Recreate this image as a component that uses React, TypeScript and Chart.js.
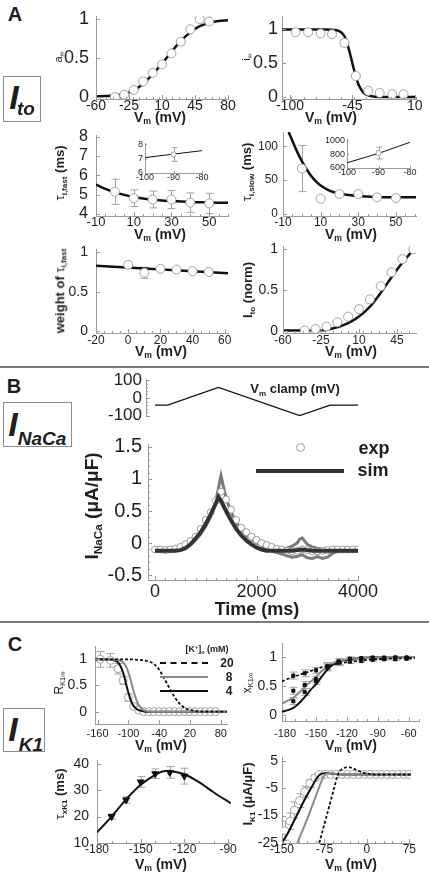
import React, { useEffect, useRef } from 'react';
import { Chart, registerables } from 'chart.js';

const FONT = "'Liberation Sans', Arial, Helvetica, sans-serif";
const AXIS = '#9a9a9a';
const TXT = '#1e1e1e';
const GREY = '#8a8a8a';
const MARK = '#a2a2a2';

// ===================== Panel A : I_to =====================
const aInfCurveV = [-60, -50, -40, -30, -20, -10, 0, 10, 20, 30, 40, 50, 60, 70, 80];
const aInfCurve = [0.01, 0.013, 0.02, 0.04, 0.085, 0.17, 0.29, 0.43, 0.58, 0.72, 0.83, 0.91, 0.95, 0.975, 0.985];
const aInfExpV = [-40, -30, -20, -10, 0, 10, 20, 30, 40, 50, 60];
const aInfExp = [0.0, 0.03, 0.09, 0.2, 0.31, 0.42, 0.56, 0.71, 0.87, 1.0, 0.97];

const iInfCurveV = [-107, -90, -80, -70, -62, -58, -55, -52, -50, -48, -46, -44, -42, -40, -38, -36, -34, -31, -28, -25, -20, -10, 0, 11];
const iInfCurve = [1.0, 1.0, 1.0, 1.0, 0.995, 0.985, 0.96, 0.9, 0.82, 0.7, 0.57, 0.43, 0.31, 0.2, 0.13, 0.08, 0.05, 0.025, 0.012, 0.005, 0.0, 0.0, 0.0, 0.0];
const iInfExpV = [-95, -84, -73, -63, -52, -42, -31, -21, -10, 0];
const iInfExp = [0.96, 0.96, 0.94, 0.93, 0.8, 0.31, 0.09, 0.06, 0.04, 0.04];
const iInfErr = [0, 0, 0, 0.03, 0.05, 0.03, 0, 0, 0, 0];

const tauFastCurveV = [-10, -5, 0, 5, 10, 15, 20, 30, 40, 50, 60];
const tauFastCurve = [5.52, 5.3, 5.12, 4.99, 4.88, 4.8, 4.74, 4.67, 4.62, 4.6, 4.58];
const tauFastExpV = [0, 10, 20, 30, 40, 50];
const tauFastExp = [5.15, 4.82, 4.75, 4.75, 4.59, 4.55];
const tauFastErr = [0.65, 0.43, 0.43, 0.47, 0.5, 0.52];
const insetFastLineV = [-100, -80];
const insetFastLine = [7.08, 7.57];
const insetFastExpV = [-90];
const insetFastExp = [7.3];
const insetFastErr = [0.48];

const tauSlowCurveV = [-7, -5, -2.5, 0, 2.5, 5, 7.5, 10, 15, 20, 25, 30, 40, 50, 60.7];
const tauSlowCurve = [121, 108, 92, 78, 66, 56, 48, 42, 34, 30, 28, 26.5, 25.2, 24.8, 24.6];
const tauSlowExpV = [0, 10, 20, 30, 40, 50];
const tauSlowExp = [67, 22.5, 29.4, 29.4, 24.5, 23.5];
const tauSlowErr = [34, 0, 2, 2, 2, 2];
const insetSlowLineV = [-100, -90, -80];
const insetSlowLine = [675, 810, 970];
const insetSlowExpV = [-90];
const insetSlowExp = [815];
const insetSlowErr = [85];

const weightCurveV = [-20, 62];
const weightCurve = [0.83, 0.735];
const weightExpV = [0, 10, 20, 30, 40, 50];
const weightExp = [0.84, 0.74, 0.79, 0.78, 0.76, 0.75];
const weightErr = [0.02, 0.07, 0.02, 0.02, 0.02, 0.02];

const itoCurveV = [-60, -40, -30, -25, -20, -10, 0, 10, 20, 30, 40, 50, 60];
const itoCurve = [0.01, 0.01, 0.01, 0.012, 0.02, 0.05, 0.1, 0.18, 0.3, 0.47, 0.66, 0.84, 0.99];
const itoExpV = [-40, -30, -20, -10, 0, 10, 20, 30, 40, 50, 60];
const itoExp = [0.01, 0.03, 0.06, 0.11, 0.18, 0.27, 0.39, 0.55, 0.72, 0.88, 1.0];

// ===================== Panel B : I_NaCa =====================
const clampT = [0, 250, 1250, 2850, 3450, 4000];
const clampV = [-40, -40, 60, -100, -40, -40];

const expT = [0, 100, 200, 300, 400, 500, 600, 700, 800, 900, 1000, 1100, 1200, 1300, 1400, 1500, 1600, 1700, 1800, 1900, 2000,
  2100, 2200, 2300, 2400, 2500, 2600, 2700, 2800, 2900, 3000, 3100, 3200, 3300, 3400, 3500, 3600, 3700, 3800, 3900, 4000];
const expI = [-0.1, -0.1, -0.11, -0.1, -0.09, -0.06, -0.02, 0.03, 0.1, 0.22, 0.36, 0.48, 0.66, 0.8, 0.68, 0.52, 0.36, 0.24, 0.17, 0.1, 0.05,
  0.0, -0.03, -0.06, -0.09, -0.1, -0.12, -0.13, -0.12, -0.1, -0.11, -0.13, -0.13, -0.12, -0.11, -0.1, -0.1, -0.1, -0.1, -0.1, -0.1];

const simT = [0, 400, 500, 600, 700, 800, 900, 1000, 1100, 1200, 1250, 1300, 1400, 1500, 1600, 1700, 1800, 1900, 2000, 2100, 2200, 2700, 2800, 2900, 3000, 3100, 3200, 4000];
const simI = [-0.12, -0.12, -0.11, -0.08, -0.02, 0.07, 0.17, 0.3, 0.45, 0.62, 0.72, 0.66, 0.5, 0.35, 0.22, 0.12, 0.04, -0.02, -0.07, -0.1, -0.12, -0.12, -0.11, -0.1, -0.11, -0.12, -0.12, -0.12];

const altT = [0, 500, 600, 700, 800, 900, 1000, 1100, 1200, 1300, 1400, 1500, 1600, 1700, 1800, 1900, 2000, 2100, 2200, 2300, 2400, 2500, 2600, 2700, 2800, 2900, 3000, 3100, 3200, 3300, 3400, 3500, 3600, 3700, 4000];
const altI = [-0.1, -0.1, -0.07, -0.02, 0.05, 0.14, 0.26, 0.42, 0.66, 1.05, 0.7, 0.48, 0.33, 0.2, 0.12, 0.05, 0.0, -0.04, -0.08, -0.12, -0.15, -0.17, -0.2, -0.22, -0.21, -0.18, -0.23, -0.24, -0.21, -0.24, -0.22, -0.16, -0.13, -0.12, -0.12];
const altUpT = [2400, 2500, 2600, 2700, 2800, 2850, 2900, 2950, 3000, 3100, 3200, 3300, 3400, 3500, 3600];
const altUpI = [-0.12, -0.1, -0.08, -0.05, 0.0, 0.06, 0.08, 0.03, -0.02, -0.06, -0.08, -0.09, -0.1, -0.11, -0.12];

// ===================== Panel C : I_K1 =====================
const c1CurveV4 = [-165, -130, -125, -120, -115, -110, -105, -100, -95, -90, -85, -80, -75, -70, -60, 92];
const c1Curve4 = [1.0, 0.99, 0.97, 0.94, 0.86, 0.74, 0.55, 0.36, 0.21, 0.11, 0.06, 0.03, 0.015, 0.005, 0.0, 0.0];
const c1CurveV8 = [-165, -120, -115, -110, -105, -100, -95, -90, -85, -80, -75, -70, -65, -60, -50, 92];
const c1Curve8 = [1.0, 0.99, 0.97, 0.94, 0.87, 0.75, 0.58, 0.4, 0.24, 0.13, 0.07, 0.03, 0.015, 0.005, 0.0, 0.0];
const c1CurveV20 = [-165, -100, -80, -70, -60, -50, -40, -30, -20, -10, 0, 10, 20, 30, 40, 92];
const c1Curve20 = [1.0, 1.0, 0.99, 0.98, 0.96, 0.91, 0.8, 0.63, 0.45, 0.28, 0.15, 0.07, 0.03, 0.01, 0.0, 0.0];
const c1ExpV = [-155, -135, -120, -110, -100, -90, -80, -70, -60, -50, -40, -30, -20, -10, 0, 10, 20, 30, 40, 50, 60, 70];
const c1Exp = [1.0, 0.98, 0.82, 0.6, 0.27, 0.1, 0.03, 0, 0, 0, 0, 0, 0, 0, 0, 0, 0, 0, 0, 0, 0, 0];
const c1Err = [0.15, 0.13, 0.1, 0.08, 0.07, 0.03, 0, 0, 0, 0, 0, 0, 0, 0, 0, 0, 0, 0, 0, 0, 0, 0];

const c2CurveV = [-183, -175, -170, -165, -160, -155, -150, -145, -140, -135, -130, -125, -120, -110, -100, -80, -54];
const c2Curve4 = [0.06, 0.1, 0.15, 0.23, 0.33, 0.44, 0.53, 0.65, 0.76, 0.85, 0.9, 0.93, 0.95, 0.98, 0.99, 1.0, 1.0];
const c2Curve8 = [0.2, 0.27, 0.33, 0.41, 0.5, 0.58, 0.66, 0.75, 0.82, 0.88, 0.92, 0.94, 0.96, 0.98, 0.99, 1.0, 1.0];
const c2Curve20 = [0.58, 0.64, 0.67, 0.7, 0.73, 0.76, 0.79, 0.82, 0.84, 0.86, 0.88, 0.9, 0.91, 0.93, 0.95, 0.97, 0.98];
const c2ExpV = [-172, -161, -150, -139, -128, -117, -106, -95, -84, -73, -62];
const c2Exp20 = [0.68, 0.72, 0.77, 0.84, 0.9, 0.92, 0.93, 0.95, 0.96, 0.96, 0.97];
const c2Exp8 = [0.42, 0.52, 0.62, 0.84, 0.92, 0.96, 0.97, 0.98, 0.98, 0.99, 0.99];
const c2Exp4 = [0.24, 0.4, 0.58, 0.82, 0.92, 0.97, 0.98, 0.99, 0.99, 0.99, 0.99];
const c2Err = [0.06, 0.06, 0.05, 0.06, 0.05, 0.03, 0.02, 0.02, 0.02, 0.02, 0.02];

const c3CurveV = [-180, -170, -160, -150, -140, -133, -125, -120, -110, -100, -88];
const c3Curve = [14, 20, 26.5, 32, 35.8, 37.2, 36.8, 36, 33, 29.2, 25];
const c3ExpV = [-170, -160, -150, -140, -130, -120];
const c3Exp = [20, 26.3, 33.1, 36.2, 36.7, 35.3];
const c3Err = [1, 1.2, 2, 1.8, 2.2, 3];

const c4CurveV4 = [-150, -140, -130, -120, -110, -100, -95, -90, -85, -80, -75, -70, -60, -50, -40, 78];
const c4Curve4 = [-25, -21.5, -17.5, -13.3, -9.2, -5.5, -3.6, -1.8, -0.4, 0.3, 0.5, 0.5, 0.3, 0.1, 0, 0];
const c4CurveV8 = [-123, -115, -105, -95, -85, -80, -75, -70, -65, -55, -45, -30, 78];
const c4Curve8 = [-25, -21, -16, -10.5, -5, -2.3, -0.3, 0.4, 0.5, 0.3, 0.1, 0, 0];
const c4CurveV20 = [-84, -75, -65, -58, -52, -48, -42, -36, -30, -24, -15, -5, 5, 15, 78];
const c4Curve20 = [-25, -18, -10.5, -5, -0.5, 1.2, 2.2, 2.6, 2.6, 2.2, 1.3, 0.6, 0.2, 0, 0];
const c4ExpV = [-145, -136, -128, -119, -110, -101, -92, -84, -74, -64, -54, -44, -34, -24, -14, -4, 6, 16, 26, 36, 46, 56, 66, 75];
const c4Exp = [-20.5, -17, -13, -9.5, -6.3, -3.2, -1.2, 0, 0, 0, 0, 0, 0, 0, 0, 0, 0, 0, 0, 0, 0, 0, 0, 0];
const c4Err = [3.5, 3, 3, 2.5, 2, 1.5, 1, 0.5, 0, 0, 0, 0, 0, 0, 0, 0, 0, 0, 0, 0, 0, 0, 0, 0];

// ===================== plugins =====================
const errorBarPlugin = {
  id: 'errBars',
  beforeDatasetsDraw(chart: any) {
    const ctx = chart.ctx;
    chart.data.datasets.forEach((ds: any, i: number) => {
      if (!ds.errors) return;
      const meta = chart.getDatasetMeta(i);
      const ys = meta.yScale;
      ctx.save();
      ctx.strokeStyle = ds.errorColor || MARK;
      ctx.lineWidth = 1;
      meta.data.forEach((pt: any, j: number) => {
        const e = ds.errors[j];
        if (!e) return;
        const yv = ds.data[j].y;
        const top = ys.getPixelForValue(yv + e);
        const bot = ys.getPixelForValue(yv - e);
        const x = Math.round(pt.x) + 0.5;
        const cap = ds.capWidth ?? 4;
        ctx.beginPath();
        ctx.moveTo(x, top); ctx.lineTo(x, bot);
        ctx.moveTo(x - cap, top); ctx.lineTo(x + cap, top);
        ctx.moveTo(x - cap, bot); ctx.lineTo(x + cap, bot);
        ctx.stroke();
      });
      ctx.restore();
    });
  },
};

// inward major and minor tick marks (drawn from the scales)
const tickMarkPlugin = {
  id: 'tickMarks',
  afterDraw(chart: any, _a: any, opts: any) {
    const { ctx, chartArea } = chart;
    const sx = chart.scales.x;
    const sy = chart.scales.y;
    const major = opts?.major ?? 4;
    ctx.save();
    ctx.strokeStyle = AXIS;
    ctx.lineWidth = 1;
    const vx = (v: number, len: number) => {
      const p = Math.round(sx.getPixelForValue(v)) + 0.5;
      ctx.beginPath(); ctx.moveTo(p, chartArea.bottom); ctx.lineTo(p, chartArea.bottom - len); ctx.stroke();
    };
    const vy = (v: number, len: number) => {
      const p = Math.round(sy.getPixelForValue(v)) + 0.5;
      ctx.beginPath(); ctx.moveTo(chartArea.left, p); ctx.lineTo(chartArea.left + len, p); ctx.stroke();
    };
    if (sx && !opts?.hideX) {
      sx.ticks.forEach((t: any) => vx(t.value, major));
      if (opts?.x) {
        const st = opts.x;
        for (let k = Math.ceil(sx.min / st - 1e-9); k * st <= sx.max + 1e-9; k++) vx(k * st, 2);
      }
    }
    if (sy) {
      sy.ticks.forEach((t: any) => vy(t.value, major));
      if (opts?.y) {
        const st = opts.y;
        for (let k = Math.ceil(sy.min / st - 1e-9); k * st <= sy.max + 1e-9; k++) vy(k * st, 2);
      }
    }
    ctx.restore();
  },
};

Chart.register(...registerables, errorBarPlugin, tickMarkPlugin);

// ===================== helpers =====================
const pts = (xs: number[], ys: number[]) => xs.map((x, i) => ({ x, y: ys[i] }));

const curve = (xs: number[], ys: number[], o: any = {}) => ({
  data: pts(xs, ys),
  showLine: true,
  borderColor: o.color || '#111',
  borderWidth: o.width ?? 2.5,
  borderDash: o.dash || [],
  pointRadius: 0,
  cubicInterpolationMode: o.straight ? 'default' : 'monotone',
  tension: 0,
  order: o.order ?? 1,
});

const marks = (xs: number[], ys: number[], o: any = {}) => ({
  data: pts(xs, ys),
  showLine: false,
  pointStyle: o.style || 'circle',
  pointRadius: o.r ?? 4.5,
  pointRotation: o.rot || 0,
  backgroundColor: o.fill || '#fff',
  borderColor: o.edge || MARK,
  pointBorderWidth: o.bw ?? 1,
  borderWidth: o.bw ?? 1,
  errors: o.err,
  capWidth: o.cap,
  order: o.order ?? 0,
});

function axisCfg(a: any, dir: 'x' | 'y', size: number) {
  return {
    type: 'linear',
    min: a.min,
    max: a.max,
    display: true,
    border: { display: !a.hidden, color: AXIS, width: 1 },
    grid: { display: false, drawTicks: false, tickLength: 0 },
    ticks: {
      display: !a.hidden,
      autoSkip: false, maxRotation: 0, minRotation: 0, padding: a.pad ?? 2, color: TXT,
      font: { family: FONT, size: a.font ?? 13, lineHeight: 1 },
      callback: (v: number) => String(v),
    },
    afterBuildTicks: (s: any) => { s.ticks = a.ticks.map((v: number) => ({ value: v })); },
    afterFit: (s: any) => { if (dir === 'x') s.height = size; else s.width = size; },
  };
}

function Plot({ spec }: { spec: any }) {
  const ref = useRef<HTMLCanvasElement>(null);
  const L = spec.L ?? 40, B = spec.B ?? 22, T = spec.T ?? 12, R = spec.R ?? 24;
  const { x0, x1, y0, y1 } = spec.box;
  const w = x1 - x0 + L + R;
  const h = y1 - y0 + T + B;
  useEffect(() => {
    const chart = new Chart(ref.current as HTMLCanvasElement, {
      type: 'scatter',
      data: { datasets: spec.datasets },
      options: {
        responsive: false,
        animation: false,
        devicePixelRatio: 1,
        layout: { padding: { top: T, right: R, left: 0, bottom: 0 }, autoPadding: false },
        plugins: {
          legend: { display: false }, tooltip: { enabled: false },
          tickMarks: { x: spec.x.minor, y: spec.y.minor, hideX: spec.x.hidden, major: spec.major ?? 4 },
        },
        scales: { x: axisCfg(spec.x, 'x', B), y: axisCfg(spec.y, 'y', L) },
      } as any,
    } as any);
    return () => chart.destroy();
  }, []);
  return <canvas ref={ref} width={w} height={h} style={{ position: 'absolute', left: x0 - L, top: y0 - T, width: w, height: h }} />;
}

function Txt({ x, y, size = 13, bold = true, italic = false, rot = 0, color = TXT, children }: any) {
  return (
    <div style={{
      position: 'absolute', left: x, top: y, transform: `translate(-50%,-50%) rotate(${rot}deg)`,
      fontFamily: FONT, fontSize: size, fontWeight: bold ? 700 : 400, fontStyle: italic ? 'italic' : 'normal',
      color, whiteSpace: 'nowrap', lineHeight: 1,
    }}>{children}</div>
  );
}
const Sub = ({ children, s = 0.62 }: any) => <span style={{ fontSize: `${s}em`, verticalAlign: '-0.3em' }}>{children}</span>;
const Sup = ({ children, s = 0.62 }: any) => <span style={{ fontSize: `${s}em`, verticalAlign: '0.5em' }}>{children}</span>;
const Vm = () => <>V<Sub>m</Sub> (mV)</>;

// ===================== specs =====================
const specs: any[] = [
  { // A1
    box: { x0: 96, x1: 228, y0: 12, y1: 99 },
    x: { min: -60, max: 80, ticks: [-60, -25, 10, 45, 80], minor: 7, font: 14, pad: 0 },
    y: { min: -0.025, max: 1.04, ticks: [0, 0.5, 1], font: 18, pad: 7 },
    datasets: [marks(aInfExpV, aInfExp), curve(aInfCurveV, aInfCurve)],
  },
  { // A2
    box: { x0: 282, x1: 416, y0: 15, y1: 99 },
    x: { min: -107, max: 11, ticks: [-100, -45, 10], minor: 11, font: 14, pad: 0 },
    y: { min: -0.03, max: 1.2, ticks: [0, 0.5, 1], font: 18, pad: 4 },
    datasets: [marks(iInfExpV, iInfExp, { err: iInfErr }), curve(iInfCurveV, iInfCurve)],
  },
  { // A3
    box: { x0: 96, x1: 228, y0: 131, y1: 216 },
    x: { min: -10, max: 60, ticks: [-10, 10, 30, 50], minor: 5, font: 13, pad: 0 },
    y: { min: 3.9, max: 8.08, ticks: [4, 5, 6, 7, 8], font: 16, pad: 8 },
    datasets: [marks(tauFastExpV, tauFastExp, { err: tauFastErr }), curve(tauFastCurveV, tauFastCurve)],
  },
  { // A3 inset
    box: { x0: 145, x1: 202, y0: 143, y1: 173 }, L: 14, B: 12, T: 6, R: 12, major: 2,
    x: { min: -100, max: -80, ticks: [-100, -90, -80], font: 9, pad: 0 },
    y: { min: 6, max: 8.07, ticks: [6, 7, 8], font: 9, pad: 2 },
    datasets: [marks(insetFastExpV, insetFastExp, { err: insetFastErr, r: 2.5, cap: 3 }), curve(insetFastLineV, insetFastLine, { width: 1, straight: true })],
  },
  { // A4
    box: { x0: 283, x1: 416, y0: 132, y1: 216 },
    x: { min: -10, max: 60.7, ticks: [-10, 10, 30, 50], minor: 5, font: 12, pad: 1 },
    y: { min: -3, max: 121, ticks: [0, 50, 100], font: 12, pad: 5 },
    datasets: [marks(tauSlowExpV, tauSlowExp, { err: tauSlowErr }), curve(tauSlowCurveV, tauSlowCurve)],
  },
  { // A4 inset
    box: { x0: 347, x1: 410, y0: 139, y1: 168 }, L: 24, B: 12, T: 6, R: 12, major: 2,
    x: { min: -100, max: -80, ticks: [-100, -90, -80], font: 9, pad: 0 },
    y: { min: 600, max: 1010, ticks: [600, 800, 1000], font: 9, pad: 2 },
    datasets: [marks(insetSlowExpV, insetSlowExp, { err: insetSlowErr, r: 2.5, cap: 3 }), curve(insetSlowLineV, insetSlowLine, { width: 1, straight: true })],
  },
  { // A5
    box: { x0: 96, x1: 228, y0: 246, y1: 333 },
    x: { min: -20, max: 62, ticks: [-20, 0, 20, 40, 60], minor: 5, font: 12, pad: 2 },
    y: { min: -0.02, max: 1.04, ticks: [0, 0.5, 1], font: 14, pad: 8 },
    datasets: [marks(weightExpV, weightExp, { err: weightErr }), curve(weightCurveV, weightCurve, { straight: true })],
  },
  { // A6
    box: { x0: 283, x1: 416, y0: 246, y1: 333 },
    x: { min: -60, max: 62.5, ticks: [-60, -25, 10, 45], minor: 7, font: 12, pad: 2 },
    y: { min: -0.02, max: 1.04, ticks: [0, 0.5, 1], font: 14, pad: 5 },
    datasets: [marks(itoExpV, itoExp), curve(itoCurveV, itoCurve)],
  },
  { // B top clamp
    box: { x0: 146, x1: 358, y0: 377, y1: 417 }, L: 50, B: 12, T: 10,
    x: { min: -177, max: 4000, ticks: [0], hidden: true },
    y: { min: -105, max: 105, ticks: [-100, 0, 100], minor: 20, font: 17, pad: 4 },
    datasets: [curve(clampT, clampV, { width: 1.3, straight: true })],
  },
  { // B bottom
    box: { x0: 148, x1: 358, y0: 440, y1: 580 }, L: 52, B: 26, R: 30,
    x: { min: -138, max: 4000, ticks: [0, 2000, 4000], minor: 200, font: 18, pad: 3 },
    y: { min: -0.576, max: 1.545, ticks: [-0.5, 0, 0.5, 1, 1.5], minor: 0.1, font: 20, pad: 6 },
    datasets: [
      curve(simT, simI, { color: '#333', width: 4, straight: true, order: 0 }),
      marks(expT, expI, { r: 3.5, edge: '#9a9a9a', order: 1 }),
      curve(altT, altI, { color: '#7a7a7a', width: 3, straight: true, order: 2 }),
      curve(altUpT, altUpI, { color: '#7a7a7a', width: 3, straight: true, order: 3 }),
    ],
  },
  { // C1
    box: { x0: 95, x1: 227, y0: 643, y1: 724 }, B: 16,
    x: { min: -165, max: 92, ticks: [-160, -100, -40, 20, 80], font: 11, pad: 4 },
    y: { min: -0.236, max: 1.255, ticks: [0, 0.5, 1], font: 14, pad: 8 },
    datasets: [
      curve(c1CurveV20, c1Curve20, { width: 1.8, dash: [3, 2], order: 0 }),
      curve(c1CurveV8, c1Curve8, { width: 2, color: GREY, order: 0 }),
      curve(c1CurveV4, c1Curve4, { width: 2, order: 0 }),
      marks(c1ExpV, c1Exp, { err: c1Err, r: 4, order: 5 }),
    ],
  },
  { // C2
    box: { x0: 282, x1: 419, y0: 643, y1: 721 }, B: 18,
    x: { min: -183, max: -50, ticks: [-180, -150, -120, -90, -60], minor: 10, font: 11, pad: 7 },
    y: { min: -0.1, max: 1.24, ticks: [0, 0.5, 1], font: 14, pad: 5 },
    datasets: [
      marks(c2ExpV, c2Exp20, { err: c2Err, style: 'rect', r: 2.2, fill: '#111', edge: '#111', order: 0 }),
      marks(c2ExpV, c2Exp8, { err: c2Err, style: 'rect', r: 2.2, fill: '#111', edge: '#111', order: 0 }),
      marks(c2ExpV, c2Exp4, { err: c2Err, style: 'rect', r: 2.2, fill: '#111', edge: '#111', order: 0 }),
      curve(c2CurveV, c2Curve20, { width: 1.8, dash: [3, 2], order: 1 }),
      curve(c2CurveV, c2Curve8, { width: 2, color: GREY, order: 1 }),
      curve(c2CurveV, c2Curve4, { width: 2, order: 1 }),
    ],
  },
  { // C3
    box: { x0: 97, x1: 231, y0: 757, y1: 843 },
    x: { min: -180, max: -88, ticks: [-180, -150, -120, -90], minor: 10, font: 12, pad: 1 },
    y: { min: 10, max: 41.4, ticks: [10, 20, 30, 40], font: 14, pad: 8 },
    datasets: [
      marks(c3ExpV, c3Exp, { err: c3Err, style: 'triangle', rot: 180, r: 4, fill: '#111', edge: '#111', order: 0 }),
      curve(c3CurveV, c3Curve, { width: 2, order: 1 }),
    ],
  },
  { // C4
    box: { x0: 282, x1: 411, y0: 757, y1: 843 },
    x: { min: -150, max: 78, ticks: [-150, -75, 0, 75], minor: 15, font: 12, pad: 1 },
    y: { min: -25, max: 6.4, ticks: [-25, -15, -5, 5], font: 14, pad: 4 },
    datasets: [
      curve(c4CurveV20, c4Curve20, { width: 1.8, dash: [3, 2], order: 0 }),
      curve(c4CurveV8, c4Curve8, { width: 2, color: GREY, order: 0 }),
      curve(c4CurveV4, c4Curve4, { width: 2, order: 0 }),
      marks(c4ExpV, c4Exp, { err: c4Err, r: 4, order: 5 }),
    ],
  },
];

function CurrentBox({ left, top, width, height, sub, ix, iy, sx, sy }: any) {
  return (
    <>
      <div style={{ position: 'absolute', left, top, width, height, border: '1px solid #8c8c8c', boxSizing: 'border-box' }} />
      <Txt x={ix} y={iy} size={34} italic>I</Txt>
      <Txt x={sx} y={sy} size={19} italic>{sub}</Txt>
    </>
  );
}

export default function App() {
  return (
    <div style={{ position: 'fixed', left: 0, top: 0, width: 429, height: 875, background: '#fff', overflow: 'hidden' }}>
      {specs.map((s, i) => <Plot key={i} spec={s} />)}

      {/* section letters and current boxes */}
      <Txt x={15} y={14} size={20}>A</Txt>
      <Txt x={14} y={386} size={20}>B</Txt>
      <Txt x={15} y={644} size={20}>C</Txt>
      <CurrentBox left={3} top={76} width={38} height={46} sub="to" ix={14} iy={97} sx={26} sy={108} />
      <CurrentBox left={3} top={402} width={69} height={45} sub="NaCa" ix={13} iy={424} sx={42} sy={438} />
      <CurrentBox left={3} top={708} width={42} height={44} sub="K1" ix={13} iy={729} sx={31} sy={744} />

      {/* separators */}
      <div style={{ position: 'absolute', left: 0, top: 366, width: 429, height: 2, background: '#7a7a7a' }} />
      <div style={{ position: 'absolute', left: 0, top: 621, width: 429, height: 2, background: '#7a7a7a' }} />

      {/* Panel A titles */}
      <Txt x={59} y={57} size={11} bold={false} rot={-90}>a<Sub>∞</Sub></Txt>
      <Txt x={160} y={118} size={14}><Vm /></Txt>
      <Txt x={247} y={57} size={11} bold={false} rot={-90}>i<Sub>∞</Sub></Txt>
      <Txt x={331} y={118} size={14}><Vm /></Txt>
      <Txt x={61} y={173} size={13} rot={-90}><span style={{ fontWeight: 400 }}>τ</span><Sub>i,fast</Sub> (ms)</Txt>
      <Txt x={160} y={235} size={14}><Vm /></Txt>
      <Txt x={248} y={172} size={13} rot={-90}><span style={{ fontWeight: 400 }}>τ</span><Sub>i,slow</Sub> (ms)</Txt>
      <Txt x={351} y={235} size={14}><Vm /></Txt>
      <Txt x={61} y={291} size={13} rot={-90}>weight of <span style={{ fontWeight: 400 }}>τ</span><Sub>i,fast</Sub></Txt>
      <Txt x={161} y={352} size={14}><Vm /></Txt>
      <Txt x={249} y={290} size={13} rot={-90}>I<Sub>to</Sub> (norm)</Txt>
      <Txt x={351} y={352} size={14}><Vm /></Txt>

      {/* Panel B titles & legend */}
      <Txt x={295} y={390} size={13}>V<Sub>m</Sub> clamp (mV)</Txt>
      <Txt x={93} y={506} size={19} rot={-90}>I<Sub>NaCa</Sub> (μA/μF)</Txt>
      <Txt x={257} y={609} size={18}>Time (ms)</Txt>
      <div style={{ position: 'absolute', left: 296, top: 443, width: 7, height: 7, borderRadius: '50%', border: '1px solid #9a9a9a', background: '#fff' }} />
      <Txt x={374} y={448} size={18}>exp</Txt>
      <div style={{ position: 'absolute', left: 256, top: 469, width: 88, height: 4, background: '#333' }} />
      <Txt x={373} y={470} size={18}>sim</Txt>

      {/* Panel C titles & legend */}
      <Txt x={60} y={683} size={12} bold={false} rot={-90}>R<Sub>K1∞</Sub></Txt>
      <Txt x={161} y={746} size={14}><Vm /></Txt>
      <Txt x={248} y={683} size={12} bold={false} rot={-90}>x<Sub>K1∞</Sub></Txt>
      <Txt x={351} y={746} size={14}><Vm /></Txt>
      <Txt x={61} y={794} size={13} rot={-90}><span style={{ fontWeight: 400 }}>τ</span><Sub>xK1</Sub> (ms)</Txt>
      <Txt x={161} y={865} size={14}><Vm /></Txt>
      <Txt x={249} y={794} size={13} rot={-90}>I<Sub>K1</Sub> (μA/μF)</Txt>
      <Txt x={351} y={865} size={14}><Vm /></Txt>

      <Txt x={207} y={650} size={9}>[K<Sup>+</Sup>]<Sub>o</Sub> (mM)</Txt>
      <div style={{ position: 'absolute', left: 160, top: 662, width: 48, height: 0, borderTop: '2px dashed #111' }} />
      <div style={{ position: 'absolute', left: 160, top: 676, width: 48, height: 2, background: GREY }} />
      <div style={{ position: 'absolute', left: 160, top: 690, width: 48, height: 2, background: '#111' }} />
      <Txt x={227} y={663} size={12}>20</Txt>
      <Txt x={229} y={677} size={12}>8</Txt>
      <Txt x={229} y={691} size={12}>4</Txt>
    </div>
  );
}
